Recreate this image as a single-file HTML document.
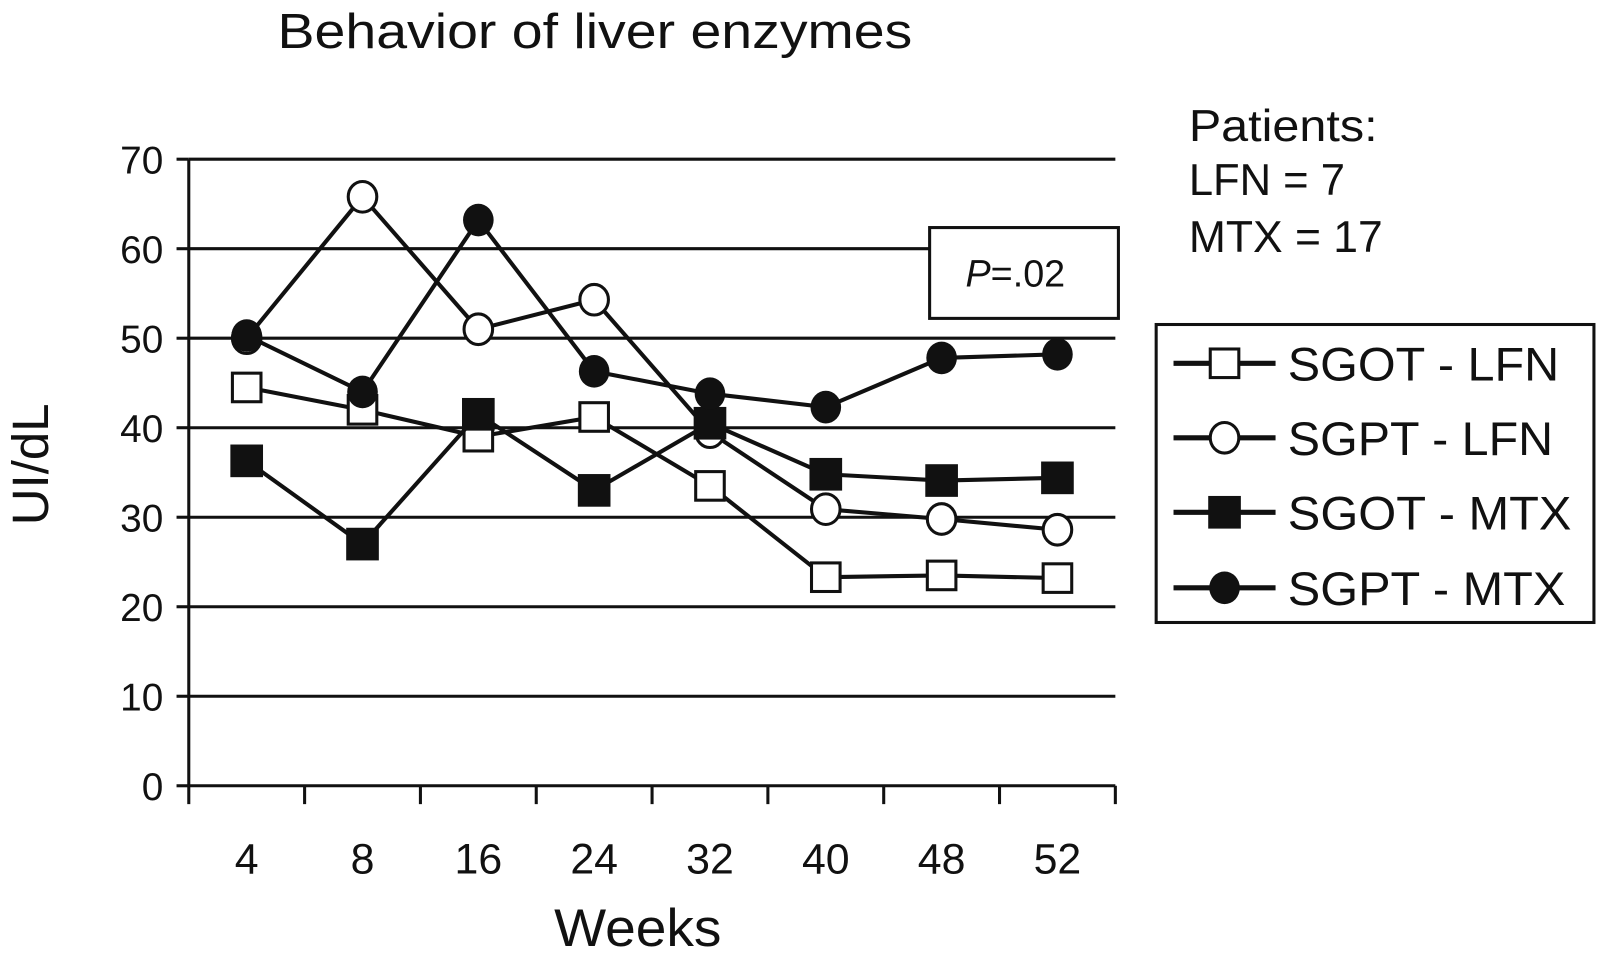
<!DOCTYPE html>
<html><head><meta charset="utf-8"><style>
html,body{margin:0;padding:0;background:#fff;}
svg text{font-family:"Liberation Sans",Arial,sans-serif;fill:#111;}
</style></head><body>
<svg id="chart" width="1597" height="972" viewBox="0 0 1565 952.5" preserveAspectRatio="none" xmlns="http://www.w3.org/2000/svg">
<text x="272" y="47" font-size="48" textLength="622" lengthAdjust="spacingAndGlyphs">Behavior of liver enzymes</text>
<g font-size="44">
<text x="1165" y="138" textLength="185" lengthAdjust="spacingAndGlyphs">Patients:</text>
<text x="1165" y="191" textLength="153" lengthAdjust="spacingAndGlyphs">LFN = 7</text>
<text x="1165" y="247" textLength="190" lengthAdjust="spacingAndGlyphs">MTX = 17</text>
</g>
<g id="grid"></g>
<g id="axes"></g>
<g id="series"></g>
<g>
<rect x="911" y="223" width="185" height="89" fill="#fff" stroke="#111" stroke-width="3"/>
<text x="995" y="281" font-size="37" text-anchor="middle"><tspan font-style="italic">P</tspan>=.02</text>
</g>
<g id="legend">
<rect x="1133" y="318" width="429" height="292" fill="#fff" stroke="#111" stroke-width="3"/>
</g>
<text x="543" y="927" font-size="52" textLength="164" lengthAdjust="spacingAndGlyphs">Weeks</text>
<text transform="translate(47,455) rotate(-90)" font-size="50" text-anchor="middle">UI/dL</text>
</svg>
<script>
const categories = ["4","8","16","24","32","40","48","52"];
const yTicks = [0,10,20,30,40,50,60,70];
const sgotLfn = [44.5,42.0,39.0,41.2,33.5,23.3,23.5,23.2];
const sgptLfn = [50.0,65.8,51.0,54.3,39.5,30.9,29.8,28.6];
const sgotMtx = [36.3,27.0,41.5,33.0,40.5,34.8,34.1,34.4];
const sgptMtx = [50.3,44.0,63.2,46.3,43.8,42.3,47.8,48.2];
const seriesNames = ["SGOT - LFN","SGPT - LFN","SGOT - MTX","SGPT - MTX"];

const NS="http://www.w3.org/2000/svg";
const x0=185,x1=1093,yb=770,yt=156;
const band=(x1-x0)/categories.length;
function xs(i){return x0+band*(i+0.5);}
function ys(v){return yb-(v/70)*(yb-yt);}
function mk(tag,attrs,parent){const e=document.createElementNS(NS,tag);for(const k in attrs)e.setAttribute(k,attrs[k]);parent.appendChild(e);return e;}
const grid=document.getElementById('grid'),axes=document.getElementById('axes'),ser=document.getElementById('series'),leg=document.getElementById('legend');

yTicks.forEach(t=>{
  if(t>0){const l=mk('line',{x1:x0,x2:x1,y1:ys(t),y2:ys(t),stroke:'#111','stroke-width':3},grid);
  
  }
  const tk=mk('line',{x1:x0-12,x2:x0,y1:ys(t),y2:ys(t),stroke:'#111','stroke-width':3},axes);
  
  
  const tx=mk('text',{x:160,y:ys(t)+14,'font-size':38,'text-anchor':'end'},axes);tx.textContent=t;
  
  
});
const ya=mk('line',{x1:x0,x2:x0,y1:yt,y2:yb,stroke:'#111','stroke-width':3},axes);


const xa=mk('line',{x1:x0,x2:x1,y1:yb,y2:yb,stroke:'#111','stroke-width':3},axes);


for(let i=0;i<=categories.length;i++){
  const tk=mk('line',{x1:x0+band*i,x2:x0+band*i,y1:yb,y2:yb+18,stroke:'#111','stroke-width':3},axes);
  
  
}
categories.forEach((c,i)=>{
  const tx=mk('text',{x:xs(i),y:856,'font-size':42,'text-anchor':'middle'},axes);tx.textContent=c;
  
  
});

function marker(type,cx,cy,parent){
  let e;
  if(type==='sq-open')e=mk('rect',{x:cx-14,y:cy-14,width:28,height:28,fill:'#fff',stroke:'#111','stroke-width':3},parent);
  else if(type==='sq-fill')e=mk('rect',{x:cx-16,y:cy-16,width:32,height:32,fill:'#111'},parent);
  else if(type==='ci-open')e=mk('ellipse',{cx:cx,cy:cy,rx:14,ry:15,fill:'#fff',stroke:'#111','stroke-width':3},parent);
  else e=mk('ellipse',{cx:cx,cy:cy,rx:15,ry:16,fill:'#111'},parent);
  return e;
}
const all=[sgotLfn,sgptLfn,sgotMtx,sgptMtx];
const types=['sq-open','ci-open','sq-fill','ci-fill'];
const keys=['sgot-lfn','sgpt-lfn','sgot-mtx','sgpt-mtx'];
all.forEach((d,s)=>{
  const g=mk('g',{},ser);
  
  
  const pl=mk('polyline',{points:d.map((v,i)=>xs(i)+','+ys(v)).join(' '),fill:'none',stroke:'#111','stroke-width':4,'stroke-linejoin':'round'},g);
  
  
  d.forEach((v,i)=>{const m=marker(types[s],xs(i),ys(v),g);
    
    });
});
const legY=[356,429,502,576];
const legW=[266,260,278,272];
seriesNames.forEach((n,s)=>{
  const g=mk('g',{},leg);
  
  
  mk('line',{x1:1150,x2:1250,y1:legY[s],y2:legY[s],stroke:'#111','stroke-width':5},g);
  marker(types[s],1200,legY[s],g);
  const t=mk('text',{x:1262,y:legY[s]+17,'font-size':46,textLength:legW[s],lengthAdjust:'spacingAndGlyphs'},g);t.textContent=n;
});
</script>
</body></html>
